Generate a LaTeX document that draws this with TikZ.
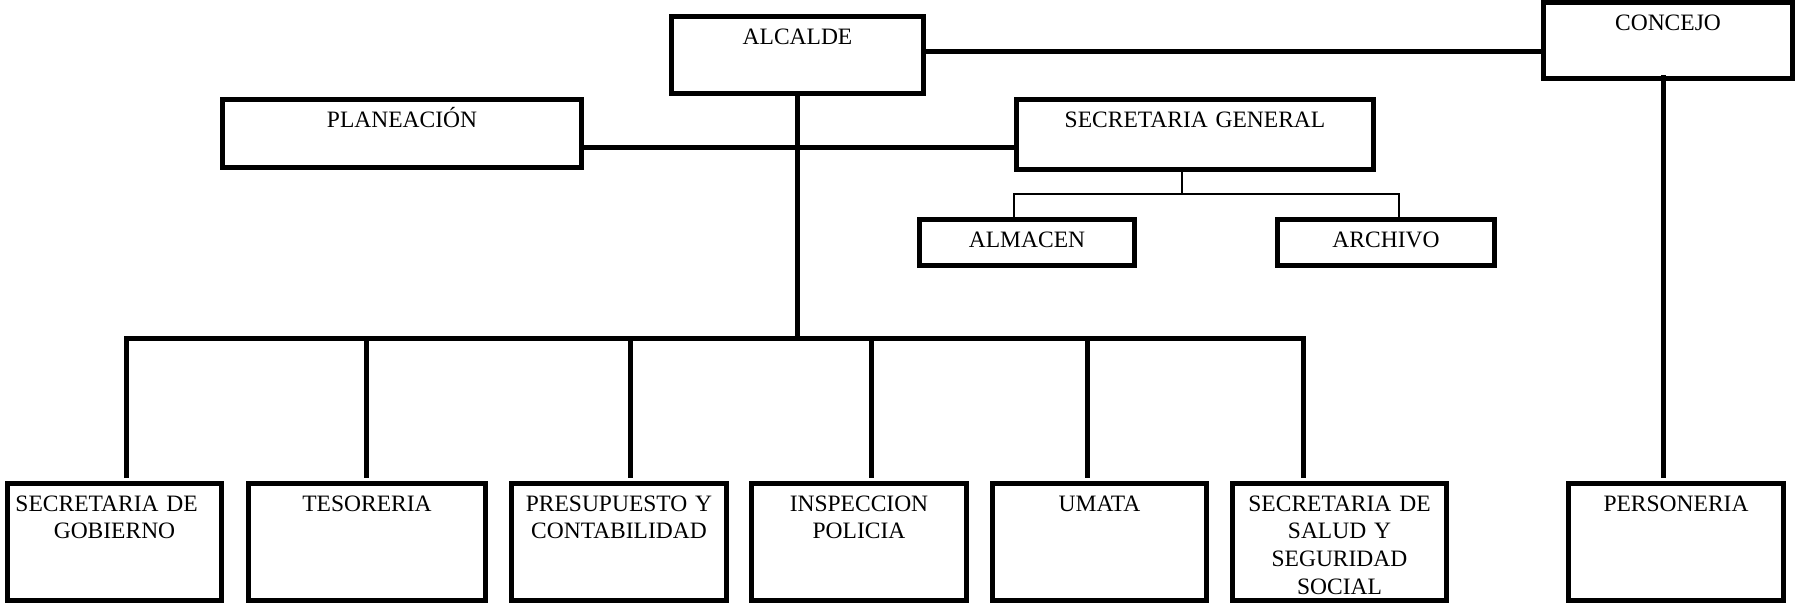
\documentclass[tikz,border=0pt]{standalone}
\usepackage{fontspec}
\setmainfont{Liberation Serif}
\tikzset{
  caja/.code 2 args={\pgfmathsetmacro\anchoc{#1-5}\pgfmathsetmacro\altoc{#2-32.5}%
    \tikzset{text width=\anchoc pt, text depth=\altoc pt}},
  cuadro/.style={draw, line width=5pt, outer sep=2.5pt, inner sep=0pt,
    anchor=north west, align=center, text height=27.5pt,
    font=\fontsize{23.5}{27.7}\selectfont},
  linea/.style={line width=5pt},
  fina/.style={line width=2pt}
}
\begin{document}
\begin{tikzpicture}[x=1pt,y=-1pt]
  \useasboundingbox (0,0) rectangle (1796,603);

  % parte de arriba
  \node[cuadro, caja={257}{82}] (alcalde) at (669,14) {ALCALDE};
  \node[cuadro, caja={254}{81}] (concejo) at (1541,0) {CONCEJO};
  \node[cuadro, caja={364}{73}] (planeacion) at (220,97) {PLANEACIÓN};
  \node[cuadro, caja={362}{75}] (secgen) at (1014,97) {SECRETARIA GENERAL};
  \node[cuadro, caja={220}{51}] (almacen) at (917,217) {ALMACEN};
  \node[cuadro, caja={222}{51}] (archivo) at (1275,217) {ARCHIVO};

  % fila de abajo
  \node[cuadro, caja={219}{122}] (gobierno) at (5,481) {\makebox[198pt][s]{SECRETARIA DE}\\GOBIERNO};
  \node[cuadro, caja={242}{122}] (tesoreria) at (246,481) {TESORERIA};
  \node[cuadro, caja={220}{122}] (presupuesto) at (509,481) {PRESUPUESTO Y\\CONTABILIDAD};
  \node[cuadro, caja={220}{122}] (inspeccion) at (749,481) {INSPECCION\\POLICIA};
  \node[cuadro, caja={219}{122}] (umata) at (990,481) {UMATA};
  \node[cuadro, caja={219}{122}] (salud) at (1230,481) {SECRETARIA DE\\SALUD Y\\SEGURIDAD\\SOCIAL};
  \node[cuadro, caja={220}{122}] (personeria) at (1566,481) {PERSONERIA};

  % lineas
  \draw[linea] ([yshift=4pt]alcalde.east) -- ([yshift=4pt]alcalde.east -| concejo.west);
  \draw[linea] ([yshift=-13.5pt]planeacion.east) -- ([yshift=-13.5pt]planeacion.east -| secgen.west);
  \draw[linea] (alcalde.south) -- (alcalde.south |- 0,338);
  \draw[linea] ([yshift=3pt]126,0 |- gobierno.north) |- (1303,338) -- ([yshift=3pt]1303,0 |- salud.north);
  \foreach \x/\caja in {366/tesoreria, 630/presupuesto, 871/inspeccion, 1087/umata}
    \draw[linea] (\x,338) -- ([yshift=3pt]\x,0 |- \caja.north);
  \draw[linea] ([xshift=-5pt,yshift=6pt]concejo.south) -- ([xshift=-5pt,yshift=3pt]concejo.south |- personeria.north);

  \coordinate (rama) at (1182,194);
  \draw[fina] (secgen.south -| rama) -- (rama);
  \draw[fina] ([xshift=-13pt]almacen.north) |- (rama) -| ([xshift=13pt]archivo.north);
\end{tikzpicture}
\end{document}
